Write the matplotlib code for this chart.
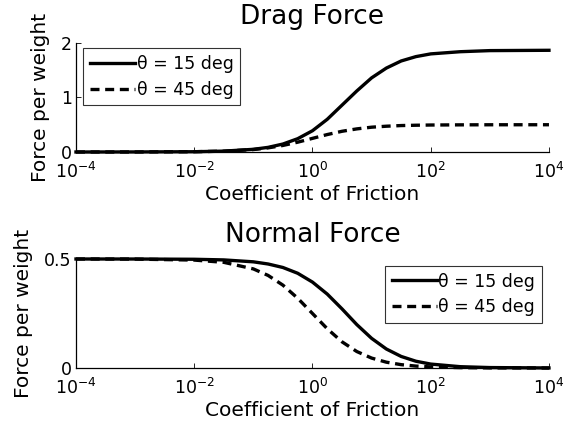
import numpy as np
import matplotlib
matplotlib.use('Agg')
import matplotlib.pyplot as plt


# values (x is log10 of the friction coefficient)
log_mu = [-4, -3, -2, -1.5, -1, -0.75, -0.5, -0.25, 0, 0.25, 0.5, 0.75,
          1, 1.25, 1.5, 1.75, 2, 2.5, 3, 4]
drag_15 = [0.0, 0.001, 0.005, 0.016, 0.049, 0.085, 0.146, 0.244, 0.39, 0.60,
           0.86, 1.12, 1.36, 1.54, 1.67, 1.75, 1.80, 1.84, 1.86, 1.866]
drag_45 = [0.0, 0.0005, 0.005, 0.015, 0.045, 0.076, 0.120, 0.180, 0.25, 0.32,
           0.38, 0.424, 0.455, 0.473, 0.485, 0.491, 0.495, 0.498, 0.4995, 0.5]
normal_15 = [0.5, 0.4999, 0.4987, 0.4958, 0.487, 0.477, 0.461, 0.4345, 0.394,
             0.339, 0.271, 0.199, 0.136, 0.087, 0.053, 0.031, 0.018, 0.006,
             0.002, 0.0002]
normal_45 = [0.5, 0.4995, 0.495, 0.4847, 0.4545, 0.4245, 0.380, 0.320, 0.25,
             0.180, 0.120, 0.0755, 0.0455, 0.0266, 0.0153, 0.0087, 0.005,
             0.0016, 0.0005, 0.0]
labels = ['\u03b8 = 15 deg', '\u03b8 = 45 deg']
xticks = [1e-4, 1e-2, 1e0, 1e2, 1e4]

plt.rcParams['font.family'] = ['DejaVu Sans']
plt.rcParams['mathtext.default'] = 'regular'

mu = 10.0 ** np.array(log_mu)

fig = plt.figure(figsize=(5.70, 4.29), dpi=100)
ax1 = fig.add_axes([0.1333, 0.6457, 0.8298, 0.2541])
ax2 = fig.add_axes([0.1333, 0.1422, 0.8298, 0.2541])

LW = 2.4
DASH = (2.7, 1.7)


def style(ax, ylim, yticks, ylabels, title, tpad):
    ax.set_xscale('log')
    ax.set_xlim(1e-4, 1e4)
    ax.set_ylim(*ylim)
    ax.set_xticks(xticks)
    ax.minorticks_off()
    ax.set_yticks(yticks)
    ax.set_yticklabels(ylabels)
    ax.spines['top'].set_visible(False)
    ax.spines['right'].set_visible(False)
    for s in ('left', 'bottom'):
        ax.spines[s].set_linewidth(0.9)
    ax.tick_params(direction='in', length=3.5, width=0.6, labelsize=12.5)
    ax.tick_params(axis='x', pad=7)
    ax.tick_params(axis='y', pad=3)
    ax.set_title(title, fontsize=19, pad=tpad)
    ax.set_xlabel('Coefficient of Friction', fontsize=14.5, labelpad=2)
    ax.set_ylabel('Force per weight', fontsize=14.5, labelpad=8)


def legend(ax, loc, anchor):
    leg = ax.legend(loc=loc, bbox_to_anchor=anchor, fontsize=12.5, frameon=True,
                    fancybox=False, handlelength=2.6, handletextpad=0.1,
                    borderaxespad=0, borderpad=0.38, labelspacing=0.45)
    leg.get_frame().set_edgecolor('black')
    leg.get_frame().set_linewidth(0.8)


ax1.plot(mu, drag_15, color='black', lw=LW, label=labels[0], clip_on=False)
ax1.plot(mu, drag_45, color='black', lw=LW, dashes=DASH, label=labels[1], clip_on=False)
style(ax1, (0, 2), [0, 1, 2], ['0', '1', '2'], 'Drag Force', 14)
legend(ax1, 'upper left', (0.015, 0.95))

ax2.plot(mu, normal_15, color='black', lw=LW, label=labels[0], clip_on=False)
ax2.plot(mu, normal_45, color='black', lw=LW, dashes=DASH, label=labels[1], clip_on=False)
style(ax2, (0, 0.5), [0, 0.5], ['0', '0.5'], 'Normal Force', 12)
legend(ax2, 'upper right', (0.985, 0.936))

fig.savefig('out.png', dpi=100)
